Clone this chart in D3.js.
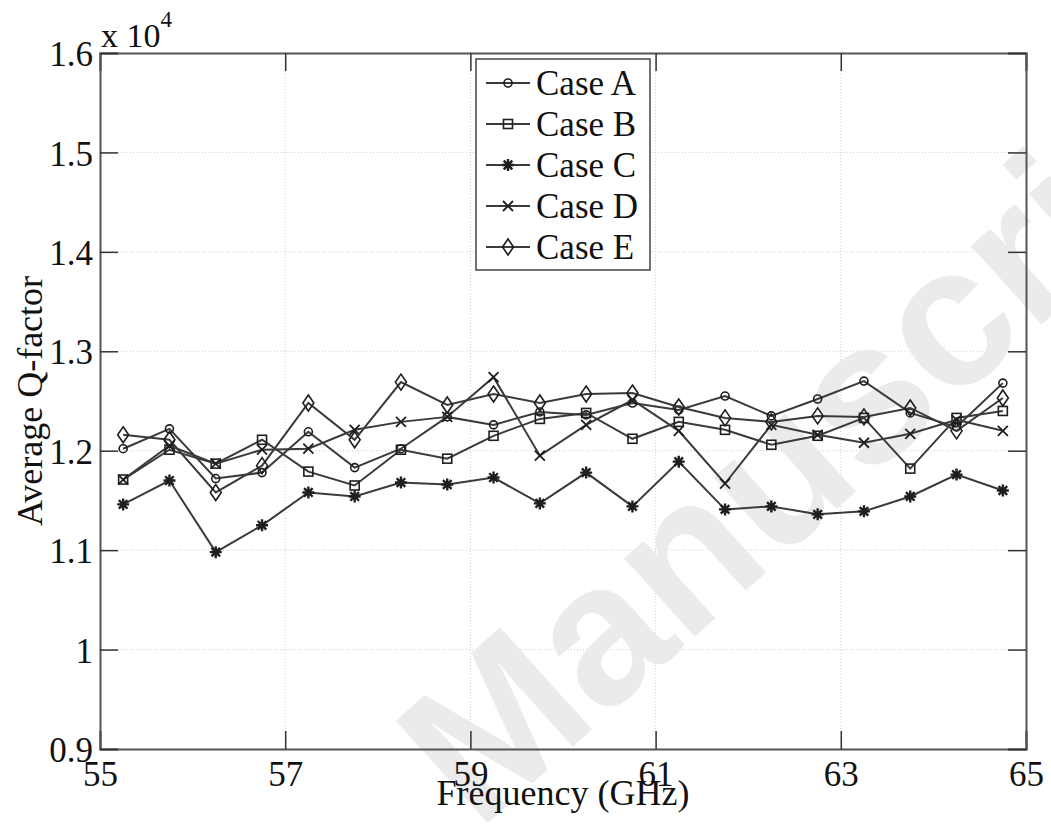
<!DOCTYPE html>
<html>
<head>
<meta charset="utf-8">
<script src="https://cdn.jsdelivr.net/npm/d3@7"></script>
<style>
  html, body { margin: 0; padding: 0; background: #fff; }
  svg { display: block; }
  svg text { font-family: "Liberation Serif", Tinos, "DejaVu Serif", serif; fill: #111; }
</style>
</head>
<body>
<svg id="chart" width="1051" height="835"></svg>
<script>
// ---- data (values in units of 10^4) ----
const frequency = [55.25, 55.75, 56.25, 56.75, 57.25, 57.75, 58.25, 58.75, 59.25, 59.75,
                   60.25, 60.75, 61.25, 61.75, 62.25, 62.75, 63.25, 63.75, 64.25, 64.75];
const caseA = [1.202, 1.222, 1.172, 1.178, 1.219, 1.183, 1.202, 1.234, 1.226, 1.239,
               1.236, 1.248, 1.241, 1.255, 1.235, 1.252, 1.270, 1.238, 1.224, 1.268];
const caseB = [1.171, 1.201, 1.187, 1.211, 1.179, 1.165, 1.201, 1.192, 1.215, 1.232,
               1.238, 1.212, 1.229, 1.221, 1.206, 1.215, 1.233, 1.182, 1.233, 1.240];
const caseC = [1.146, 1.170, 1.098, 1.125, 1.158, 1.154, 1.168, 1.166, 1.173, 1.147,
               1.178, 1.144, 1.189, 1.141, 1.144, 1.136, 1.139, 1.154, 1.176, 1.160];
const caseD = [1.171, 1.205, 1.187, 1.201, 1.202, 1.221, 1.229, 1.234, 1.274, 1.195,
               1.226, 1.251, 1.220, 1.167, 1.226, 1.216, 1.208, 1.217, 1.231, 1.220];
const caseE = [1.216, 1.211, 1.158, 1.185, 1.248, 1.211, 1.269, 1.246, 1.257, 1.248,
               1.257, 1.258, 1.244, 1.233, 1.229, 1.235, 1.234, 1.243, 1.220, 1.253];
const seriesNames = ["Case A", "Case B", "Case C", "Case D", "Case E"];
const seriesMarkers = ["circle", "square", "star", "cross", "diamond"];
const xTicks = [55, 57, 59, 61, 63, 65];
const yTicks = [0.9, 1.0, 1.1, 1.2, 1.3, 1.4, 1.5, 1.6];
const yTickLabels = ["0.9", "1", "1.1", "1.2", "1.3", "1.4", "1.5", "1.6"];

const seriesValues = [caseA, caseB, caseC, caseD, caseE];

(function () {
const FONT = "'Liberation Serif', Tinos, 'DejaVu Serif', serif";
// ---- layout ----
const svg = d3.select("#chart");
const pL = 100, pR = 1026, pT = 53, pB = 749;
const x = d3.scaleLinear().domain([55, 65]).range([pL, pR]);
const y = d3.scaleLinear().domain([0.9, 1.6]).range([pB, pT]);

const lineColor = "#3a3a3a";
const markColor = "#1e1e1e";
const axisColor = "#555";

svg.append("rect").attr("width", 1051).attr("height", 835).attr("fill", "#fff");

// grid
const grid = svg.append("g");
grid.selectAll(".gx").data(xTicks.slice(1, -1)).join("line")
  .attr("x1", d => x(d)).attr("x2", d => x(d)).attr("y1", pT).attr("y2", pB)
  .attr("stroke", "#cfcfcf").attr("stroke-width", 1).attr("stroke-dasharray", "1,2");
grid.selectAll(".gy").data(yTicks.slice(1, -1)).join("line")
  .attr("y1", d => y(d)).attr("y2", d => y(d)).attr("x1", pL).attr("x2", pR)
  .attr("stroke", "#cfcfcf").attr("stroke-width", 1).attr("stroke-dasharray", "1,2");

// watermark
svg.append("text")
  .attr("transform", "translate(478,832) rotate(-42)")
  .style("font-family", "'Liberation Sans', Arial, sans-serif")
  .style("font-weight", "bold")
  .style("font-size", "200px")
  .style("fill", "#ebebeb")
  .text("Manuscript");

// axes: ticks inward via d3 axes
const tickLen = 18;
const axB = svg.append("g").attr("transform", `translate(0,${pB})`)
  .call(d3.axisBottom(x).tickValues(xTicks).tickSize(-tickLen).tickFormat(d3.format("d")));
const axT = svg.append("g").attr("transform", `translate(0,${pT})`)
  .call(d3.axisTop(x).tickValues(xTicks).tickSize(-tickLen).tickFormat(""));
const axL = svg.append("g").attr("transform", `translate(${pL},0)`)
  .call(d3.axisLeft(y).tickValues(yTicks).tickSize(-tickLen).tickFormat((d, i) => yTickLabels[i]));
const axR = svg.append("g").attr("transform", `translate(${pR},0)`)
  .call(d3.axisRight(y).tickValues(yTicks).tickSize(-tickLen).tickFormat(""));

[axB, axT, axL, axR].forEach(a => {
  a.attr("font-family", null);
  a.select(".domain").attr("stroke", axisColor).attr("stroke-width", 2);
  a.selectAll(".tick line").attr("stroke", "#333").attr("stroke-width", 1.5);
  a.selectAll(".tick text").style("font-family", FONT)
    .style("font-size", "35px").attr("fill", "#111");
});
axL.selectAll(".tick text").attr("x", -7).attr("dy", "0.36em");
axB.selectAll(".tick text").attr("dy", "0").attr("y", 37);

// exponent label
const expo = svg.append("text").attr("x", 101).attr("y", 47).style("font-family", FONT).style("font-size", "34px");
expo.append("tspan").text("x 10");
expo.append("tspan").attr("dy", -20).style("font-size", "23px").text("4");

// axis labels
svg.append("text").attr("x", (pL + pR) / 2).attr("y", 805).attr("text-anchor", "middle")
  .style("font-family", FONT).style("font-size", "36px").text("Frequency (GHz)");
svg.append("text").attr("transform", `translate(42,${(pT + pB) / 2}) rotate(-90)`)
  .attr("text-anchor", "middle").style("font-family", FONT).style("font-size", "36px").text("Average Q-factor");

// marker drawing
function drawMarker(g, type) {
  const s = markColor;
  if (type === "circle") {
    g.append("circle").attr("r", 4).attr("fill", "none").attr("stroke", s).attr("stroke-width", 1.6);
  } else if (type === "square") {
    g.append("rect").attr("x", -4.5).attr("y", -4.5).attr("width", 9).attr("height", 9)
      .attr("fill", "none").attr("stroke", s).attr("stroke-width", 1.6);
  } else if (type === "diamond") {
    g.append("path").attr("d", "M0,-8L5.5,0L0,8L-5.5,0Z")
      .attr("fill", "none").attr("stroke", s).attr("stroke-width", 1.6);
  } else if (type === "cross") {
    g.append("path").attr("d", "M-5,-5L5,5M-5,5L5,-5")
      .attr("fill", "none").attr("stroke", s).attr("stroke-width", 1.8);
  } else if (type === "star") {
    g.append("path").attr("d", "M-6,0L6,0M0,-6L0,6M-4.3,-4.3L4.3,4.3M-4.3,4.3L4.3,-4.3")
      .attr("fill", "none").attr("stroke", s).attr("stroke-width", 2.4);
  }
}

// series
const line = d3.line().x(d => x(d[0])).y(d => y(d[1]));
seriesValues.forEach((vals, si) => {
  const pts = frequency.map((f, i) => [f, vals[i]]);
  const g = svg.append("g");
  g.append("path").attr("d", line(pts)).attr("fill", "none")
    .attr("stroke", lineColor).attr("stroke-width", 2);
  g.selectAll(".m").data(pts).join("g")
    .attr("transform", d => `translate(${x(d[0])},${y(d[1])})`)
    .each(function() { drawMarker(d3.select(this), seriesMarkers[si]); });
});

// legend
const leg = svg.append("g");
leg.append("rect").attr("x", 476).attr("y", 59).attr("width", 174).attr("height", 211)
  .attr("fill", "#fff").attr("stroke", "#444").attr("stroke-width", 1.5);
const rowY = d3.scalePoint().domain(seriesNames).range([83, 247]);
seriesNames.forEach((name, i) => {
  const cy = rowY(name);
  leg.append("line").attr("x1", 486).attr("x2", 530).attr("y1", cy).attr("y2", cy)
    .attr("stroke", lineColor).attr("stroke-width", 2);
  const mg = leg.append("g").attr("transform", `translate(508,${cy})`);
  drawMarker(mg, seriesMarkers[i]);
  leg.append("text").attr("x", 536).attr("y", cy + 12).style("font-family", FONT)
    .style("font-size", "35px").text(name);
});
})();
</script>
</body>
</html>
